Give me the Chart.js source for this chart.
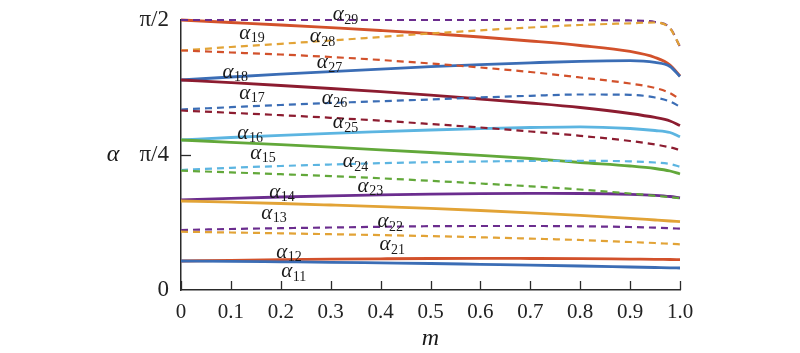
<!DOCTYPE html>
<html>
<head>
<meta charset="utf-8">
<script src="https://cdn.jsdelivr.net/npm/chart.js@4.4.1/dist/chart.umd.min.js"></script>
<style>
  html,body{margin:0;padding:0;background:#fff;}
  #wrap{width:800px;height:353px;position:relative;}
</style>
</head>
<body>
<div id="wrap"><canvas id="c" width="800" height="353"></canvas></div>
<script>
// ---- data (values in radians) ----
const m = [0, 0.1, 0.2, 0.3, 0.4, 0.5, 0.6, 0.7, 0.8, 0.9, 0.95, 0.98, 1.0];

const a11 = [0.1687,0.1670,0.1641,0.1612,0.1577,0.1542,0.1495,0.1449,0.1396,0.1338,0.1309,0.1292,0.1280];
const a12 = [0.1687,0.1728,0.1763,0.1792,0.1815,0.1833,0.1838,0.1833,0.1821,0.1798,0.1787,0.1775,0.1769];
const a13 = [0.5178,0.5108,0.5033,0.4945,0.4852,0.4747,0.4625,0.4491,0.4340,0.4171,0.4073,0.4014,0.3974];
const a14 = [0.5236,0.5329,0.5411,0.5480,0.5539,0.5579,0.5609,0.5620,0.5614,0.5568,0.5510,0.5440,0.5353];
const a15 = [0.8727,0.8593,0.8453,0.8308,0.8157,0.8000,0.7831,0.7651,0.7418,0.7214,0.7069,0.6923,0.6749];
const a16 = [0.8727,0.8872,0.9000,0.9117,0.9216,0.9309,0.9390,0.9454,0.9495,0.9396,0.9280,0.9163,0.8919];
const a17 = [1.2218,1.2061,1.1898,1.1723,1.1537,1.1333,1.1112,1.0880,1.0618,1.0269,1.0036,0.9832,0.9571];
const a18 = [1.2218,1.2392,1.2555,1.2707,1.2852,1.2992,1.3114,1.3218,1.3306,1.3341,1.3236,1.3003,1.2421];
const a19 = [1.5708,1.5563,1.5418,1.5260,1.5098,1.4923,1.4720,1.4487,1.4225,1.3876,1.3527,1.3091,1.2451];

const a21 = [0.3392,0.3345,0.3299,0.3246,0.3194,0.3136,0.3066,0.2990,0.2909,0.2793,0.2734,0.2688,0.2659];
const a22 = [0.3491,0.3549,0.3596,0.3636,0.3677,0.3712,0.3724,0.3724,0.3706,0.3665,0.3625,0.3596,0.3566];
const a23 = [0.6941,0.6842,0.6737,0.6627,0.6499,0.6353,0.6196,0.6033,0.5847,0.5614,0.5481,0.5399,0.5335];
const a24 = [0.6982,0.7110,0.7214,0.7302,0.7377,0.7435,0.7476,0.7505,0.7517,0.7482,0.7418,0.7331,0.7168];
const a25 = [1.0443,1.0309,1.0170,1.0019,0.9850,0.9658,0.9454,0.9221,0.8971,0.8669,0.8465,0.8300,0.8145];
const a26 = [1.0501,1.0635,1.0763,1.0880,1.0984,1.1083,1.1200,1.1299,1.1374,1.1357,1.1200,1.0967,1.0664];
const a27 = [1.3934,1.3818,1.3701,1.3556,1.3381,1.3178,1.2945,1.2683,1.2363,1.2014,1.1752,1.1461,1.1095];
const a28 = [1.3934,1.4138,1.4324,1.4516,1.4720,1.4923,1.5109,1.5272,1.5418,1.5517,1.5563,1.5214,1.4155];
const a29 = [1.5708,1.5708,1.5708,1.5708,1.5708,1.5708,1.5708,1.5708,1.5700,1.5680,1.5592,1.5243,1.4155];

const xTickValues = [0,0.1,0.2,0.3,0.4,0.5,0.6,0.7,0.8,0.9,1.0];
const xTickLabels = ["0","0.1","0.2","0.3","0.4","0.5","0.6","0.7","0.8","0.9","1.0"];
const yTickValues = [0, Math.PI/4, Math.PI/2];
const yTickLabels = ["0","\u03C0/4","\u03C0/2"];

// curve labels: subscript text and anchor position (data coords)
const labelSubs = ["29","19","28","27","18","17","26","25","16","15","24","23","14","13","22","21","12","11"];
const labelM    = [0.315,0.128,0.269,0.283,0.094,0.128,0.293,0.315,0.124,0.150,0.335,0.365,0.188,0.172,0.405,0.409,0.202,0.212];
const labelA    = [1.600,1.495,1.472,1.321,1.268,1.146,1.117,0.972,0.913,0.797,0.745,0.605,0.570,0.448,0.396,0.262,0.221,0.105];

// ---- styling ----
const C = {
  blue:'#3b6db5', red:'#d2512b', gold:'#e2a336', purple:'#6b2d8e',
  green:'#62a83a', sky:'#5cb5e1', wine:'#8c1c30'
};
const series = [
  {d:a21,c:C.gold,dash:true},{d:a22,c:C.purple,dash:true},{d:a23,c:C.green,dash:true},
  {d:a24,c:C.sky,dash:true},{d:a25,c:C.wine,dash:true},{d:a26,c:C.blue,dash:true},
  {d:a27,c:C.red,dash:true},{d:a28,c:C.gold,dash:true},{d:a29,c:C.purple,dash:true},
  {d:a11,c:C.blue},{d:a12,c:C.red},{d:a13,c:C.gold},{d:a14,c:C.purple},{d:a15,c:C.green},
  {d:a16,c:C.sky},{d:a17,c:C.wine},{d:a18,c:C.blue},{d:a19,c:C.red}
];

const datasets = series.map(s => ({
  data: m.map((x,i)=>({x:x, y:s.d[i]})),
  borderColor: s.c,
  borderWidth: s.dash ? 2.2 : 2.8,
  borderDash: s.dash ? [7,5] : [],
  pointRadius: 0,
  fill: false,
  cubicInterpolationMode: 'monotone',
  clip: false
}));

const FONT = "'Liberation Serif','DejaVu Serif',serif";

const decor = {
  id:'decor',
  afterDraw(chart){
    const ctx = chart.ctx, xs = chart.scales.x, ys = chart.scales.y;
    const top = ys.getPixelForValue(Math.PI/2), bot = ys.getPixelForValue(0);
    const left = xs.getPixelForValue(0);
    ctx.save();
    ctx.strokeStyle = '#2a2a2a'; ctx.lineWidth = 1.3;
    // inward tick marks
    xTickValues.forEach(v=>{
      const px = Math.round(xs.getPixelForValue(v))+0.5;
      ctx.beginPath(); ctx.moveTo(px, bot); ctx.lineTo(px, bot-9); ctx.stroke();
    });
    [Math.PI/4].forEach(v=>{
      const py = Math.round(ys.getPixelForValue(v))+0.5;
      ctx.beginPath(); ctx.moveTo(left, py); ctx.lineTo(left+10, py); ctx.stroke();
    });
    // curve labels
    ctx.fillStyle = '#1a1a1a';
    ctx.textBaseline = 'middle';
    labelSubs.forEach((s,i)=>{
      const px = xs.getPixelForValue(labelM[i]);
      const py = ys.getPixelForValue(labelA[i]);
      ctx.font = "italic 21px " + FONT;
      ctx.textAlign = 'center';
      ctx.fillText('\u03B1', px, py);
      ctx.font = "14px " + FONT;
      ctx.textAlign = 'left';
      ctx.fillText(s, px+6, py+5);
    });
    // axis titles
    ctx.font = "italic 24px " + FONT;
    ctx.textAlign = 'center';
    ctx.fillText('m', (xs.left+xs.right)/2, 339);
    ctx.fillText('\u03B1', 113, (top+bot)/2);
    ctx.restore();
  }
};

new Chart(document.getElementById('c'), {
  type:'line',
  data:{datasets},
  options:{
    responsive:false,
    animation:false,
    events:[],
    layout:{padding:{left:0,right:120,top:20,bottom:0}},
    plugins:{legend:{display:false}, tooltip:{enabled:false}},
    scales:{
      x:{
        type:'linear', min:0, max:1,
        afterBuildTicks(scale){ scale.ticks = xTickValues.map(v=>({value:v})); },
        afterFit(scale){ scale.height = 63; scale.paddingLeft = 0; scale.paddingRight = 0; },
        ticks:{
          callback:(v)=>{ const i = xTickValues.findIndex(t=>Math.abs(t-v)<1e-9); return i>=0 ? xTickLabels[i] : ''; },
          font:{family:FONT,size:21}, color:'#222', padding:10, maxRotation:0, autoSkip:false
        },
        grid:{display:true, drawOnChartArea:false, drawTicks:false},
        border:{display:true, color:'#2a2a2a', width:1.5}
      },
      y:{
        type:'linear', min:0, max:Math.PI/2,
        afterBuildTicks(scale){ scale.ticks = yTickValues.map(v=>({value:v})); },
        afterFit(scale){ scale.width = 181; scale.paddingTop = 0; scale.paddingBottom = 0; },
        ticks:{
          callback:(v)=>{ const i = yTickValues.findIndex(t=>Math.abs(t-v)<1e-9); return i>=0 ? yTickLabels[i] : ''; },
          font:{family:FONT,size:23}, color:'#222', padding:12, autoSkip:false
        },
        grid:{display:true, drawOnChartArea:false, drawTicks:false},
        border:{display:true, color:'#2a2a2a', width:1.5}
      }
    }
  },
  plugins:[decor]
});
</script>
</body>
</html>
